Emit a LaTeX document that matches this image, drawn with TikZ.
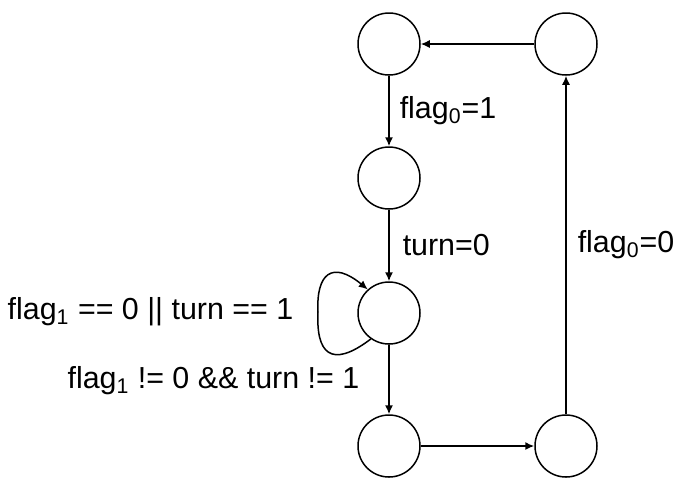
\documentclass[tikz,border=0pt]{standalone}
\usepackage{fontspec}
\setmainfont{Liberation Sans}
\usetikzlibrary{arrows.meta}
\tikzset{
    state/.style={draw, circle, line width=0.75pt, minimum size=31pt, inner sep=0},
    trans/.style={line width=0.75pt, -{Latex[length=4.5pt, width=4pt]}},
    guard/.style={font=\fontsize{15.2}{18}\selectfont, inner sep=2pt},
    }

\begin{document}
\begin{tikzpicture}[x=0.5pt, y=-0.5pt]
    \useasboundingbox (0,0) rectangle (681,479);

    % states
    \node[state] (s0) at (389,44) {};
    \node[state] (s1) at (389,178) {};
    \node[state] (s2) at (389,313) {};
    \node[state] (s3) at (389,446) {};
    \node[state] (s4) at (566,446) {};
    \node[state] (s5) at (566,44) {};

    % transitions
    \draw[trans] (s0) -- node[guard, right=3pt] {flag\textsubscript{0}=1} (s1);
    \draw[trans] (s1) -- node[guard, right=4.5pt] {turn=0} (s2);
    \draw[trans] (s2.235) .. controls (330,370) and (316,352) .. (318,312)
        node[guard, left=10pt] {flag\textsubscript{1} == 0 || turn == 1}
        .. controls (316,274) and (332,260) .. (s2.132);
    \draw[trans] (s2) -- node[guard, pos=0.52, left=12.5pt] {flag\textsubscript{1} != 0 \&\& turn != 1} (s3);
    \draw[trans] (s3) -- (s4);
    \draw[trans] (s4) -- node[guard, right=3.5pt] {flag\textsubscript{0}=0} (s5);
    \draw[trans] (s5) -- (s0);

\end{tikzpicture}
\end{document}
